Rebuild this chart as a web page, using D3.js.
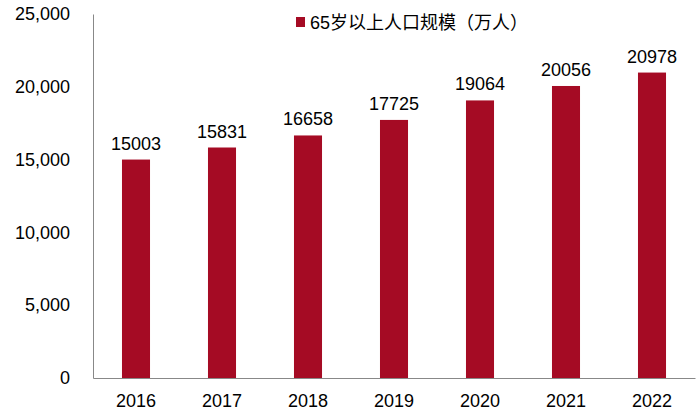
<!DOCTYPE html>
<html><head><meta charset="utf-8">
<script src="https://cdn.jsdelivr.net/npm/d3@7"></script>
<style>body{margin:0;background:#fff}text{font-family:Arial,"Liberation Sans","Noto Sans CJK SC",sans-serif}</style>
</head><body>
<svg id="c" width="700" height="414"></svg>
<script>
const categories = ["2016","2017","2018","2019","2020","2021","2022"];
const values = [15003,15831,16658,17725,19064,20056,20978];
const yTicks = [0,5000,10000,15000,20000,25000];
const seriesName = "65岁以上人口规模（万人）";
const color = "#A50B24";

const svg = d3.select("#c");
const x = d3.scaleBand().domain(categories).range([93,695]).paddingInner(0.674).paddingOuter(0.337);
const y = d3.scaleLinear().domain([0,25000]).range([378,14]);

const ya = svg.append("g").attr("transform","translate(93,0)")
  .call(d3.axisLeft(y).tickValues(yTicks).tickFormat(d3.format(",")).tickSize(0).tickPadding(23));
ya.select(".domain").attr("stroke","#888");
ya.selectAll("text").attr("font-size",18).attr("fill","#000");

const xa = svg.append("g").attr("transform","translate(0,378)")
  .call(d3.axisBottom(x).tickSize(0).tickPadding(16));
xa.select(".domain").attr("stroke","#888");
xa.selectAll("text").attr("font-size",18).attr("fill","#000");

svg.append("g").selectAll("rect").data(values).join("rect")
  .attr("x",(d,i)=>x(categories[i])).attr("width",x.bandwidth())
  .attr("y",d=>y(d)).attr("height",d=>y(0)-y(d)).attr("fill",color);

svg.append("g").selectAll("text").data(values).join("text")
  .attr("x",(d,i)=>x(categories[i])+x.bandwidth()/2).attr("y",d=>y(d)-10)
  .attr("text-anchor","middle").attr("font-size",18).text(d=>d);

svg.append("rect").attr("x",296).attr("y",17).attr("width",9).attr("height",10).attr("fill",color);
svg.append("text").attr("x",310).attr("y",29).attr("font-size",18).text(seriesName);
</script>
</body></html>
